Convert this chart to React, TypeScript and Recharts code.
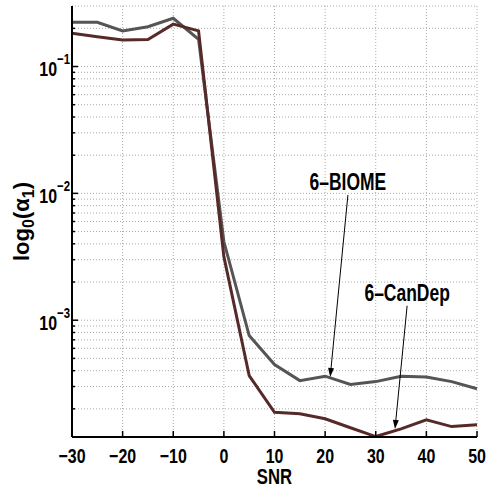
import React from 'react';
import { LineChart, Line, XAxis, YAxis, CartesianGrid, ReferenceLine } from 'recharts';

const snr = [-30, -25, -20, -15, -10, -5, 0, 5, 10, 15, 20, 25, 30, 35, 40, 45, 50];
const biome = [0.223, 0.223, 0.191, 0.206, 0.24, 0.164, 4.17e-3, 7.57e-4, 4.47e-4, 3.34e-4, 3.62e-4, 3.11e-4, 3.28e-4, 3.62e-4, 3.56e-4, 3.28e-4, 2.88e-4];
const canDep = [0.183, 0.172, 0.162, 0.163, 0.216, 0.191, 3.17e-3, 3.66e-4, 1.88e-4, 1.83e-4, 1.67e-4, 1.42e-4, 1.21e-4, 1.39e-4, 1.64e-4, 1.45e-4, 1.5e-4];

const xTicks = [-30, -20, -10, 0, 10, 20, 30, 40, 50];
const yTicks = [
  2e-4, 3e-4, 4e-4, 5e-4, 6e-4, 7e-4, 8e-4, 9e-4,
  1e-3, 2e-3, 3e-3, 4e-3, 5e-3, 6e-3, 7e-3, 8e-3, 9e-3,
  1e-2, 2e-2, 3e-2, 4e-2, 5e-2, 6e-2, 7e-2, 8e-2, 9e-2,
  1e-1, 2e-1,
];
const decadeLabels: Record<string, string> = { '0.001': '−3', '0.01': '−2', '0.1': '−1' };
const yDomain = [1.2e-4, 0.3];

const biomeNote = { text: '6–BIOME', from: { x: 24.5, y: 9.7e-3 }, to: { x: 21, y: 3.57e-4 } };
const canDepNote = { text: '6–CanDep', from: { x: 36.2, y: 1.3e-3 }, to: { x: 33.8, y: 1.39e-4 } };

const data = snr.map((s, i) => ({ snr: s, biome: biome[i], canDep: canDep[i] }));

const FONT = "'Liberation Sans', Arial, Helvetica, sans-serif";
const SQ = 0.76;

const isDecade = (v: number) => decadeLabels[String(v)] !== undefined;

const XTickBottom = (props: any) => {
  const { x, y, payload } = props;
  const v = payload.value as number;
  const label = v < 0 ? `−${Math.abs(v)}` : String(v);
  return (
    <g>
      <line x1={x} y1={y} x2={x} y2={y - 6} stroke="#000" strokeWidth={1.5} />
      <g transform={`translate(${x},${y + 26}) scale(${SQ},1)`}>
        <text x={0} y={0} textAnchor="middle" fontFamily={FONT} fontWeight="bold" fontSize={21} fill="#000">
          {label}
        </text>
      </g>
    </g>
  );
};

const XTickTop = (props: any) => {
  const { x, y } = props;
  return <line x1={x} y1={y} x2={x} y2={y + 6} stroke="#000" strokeWidth={1} />;
};

const YTickLeft = (props: any) => {
  const { x, y, payload } = props;
  const v = payload.value as number;
  const major = isDecade(v);
  return (
    <g>
      <line x1={x} y1={y} x2={x + (major ? 6 : 3)} y2={y} stroke="#000" strokeWidth={1.5} />
      {major && (
        <g transform={`translate(${x - 2},${y + 9.5}) scale(${SQ},1)`}>
          <text x={0} y={0} textAnchor="end" fontFamily={FONT} fontWeight="bold" fill="#000">
            <tspan fontSize={21}>10</tspan>
            <tspan fontSize={15} dy={-12}>{decadeLabels[String(v)]}</tspan>
          </text>
        </g>
      )}
    </g>
  );
};

const YTickRight = (props: any) => {
  const { x, y, payload } = props;
  const major = isDecade(payload.value as number);
  return <line x1={x} y1={y} x2={x - (major ? 6 : 3)} y2={y} stroke="#000" strokeWidth={1.5} />;
};

const makeArrow = (text: string) => (p: any) => {
  const { x1, y1, x2, y2 } = p;
  const dx = x2 - x1;
  const dy = y2 - y1;
  const len = Math.sqrt(dx * dx + dy * dy) || 1;
  const ux = dx / len;
  const uy = dy / len;
  const hl = 9;
  const hw = 3;
  const bx = x2 - ux * hl;
  const by = y2 - uy * hl;
  const pts = `${x2},${y2} ${bx - uy * hw},${by + ux * hw} ${bx + uy * hw},${by - ux * hw}`;
  return (
    <g>
      <line x1={x1} y1={y1} x2={bx} y2={by} stroke="#000" strokeWidth={1} />
      <polygon points={pts} fill="#000" />
      <g transform={`translate(${x1},${y1 - 5}) scale(${SQ},1)`}>
        <text x={0} y={0} textAnchor="middle" fontFamily={FONT} fontWeight="bold" fontSize={23} fill="#000">
          {text}
        </text>
      </g>
    </g>
  );
};

const YLabel = (props: any) => {
  const vb = props.viewBox;
  const cx = vb.x + 17;
  const cy = vb.y + vb.height / 2;
  return (
    <g transform={`translate(${cx},${cy}) rotate(-90)`}>
      <text x={0} y={0} textAnchor="middle" fontFamily={FONT} fontWeight="bold" fontSize={22} fill="#000">
        <tspan>log</tspan>
        <tspan fontSize={16} dy={5}>0</tspan>
        <tspan dy={-5}>(α</tspan>
        <tspan fontSize={16} dy={5}>1</tspan>
        <tspan dy={-5}>)</tspan>
      </text>
    </g>
  );
};

const XLabel = (props: any) => {
  const vb = props.viewBox;
  return (
    <g transform={`translate(${vb.x + vb.width / 2},${vb.y + 47}) scale(${SQ},1)`}>
      <text x={0} y={0} textAnchor="middle" fontFamily={FONT} fontWeight="bold" fontSize={22} fill="#000">
        SNR
      </text>
    </g>
  );
};

export default function App() {
  return (
    <div style={{ position: 'absolute', left: 0, top: 0, width: 488, height: 488, background: '#fff' }}>
      <LineChart width={488} height={488} data={data} margin={{ top: 6, right: 11, bottom: 21, left: 12 }}>
        <CartesianGrid stroke="#aaa" strokeDasharray="1 2" />
        <XAxis
          dataKey="snr"
          type="number"
          domain={[-30, 50]}
          ticks={xTicks}
          interval={0}
          tickLine={false}
          tickSize={0}
          tickMargin={0}
          tick={<XTickBottom />}
          axisLine={{ stroke: '#000', strokeWidth: 2 }}
          height={30}
          label={<XLabel />}
        />
        <XAxis
          xAxisId="top"
          orientation="top"
          dataKey="snr"
          type="number"
          domain={[-30, 50]}
          ticks={xTicks}
          interval={0}
          tickLine={false}
          tickSize={0}
          tickMargin={0}
          tick={<XTickTop />}
          axisLine={{ stroke: '#000', strokeWidth: 1.5 }}
          height={0}
        />
        <YAxis
          scale="log"
          type="number"
          domain={yDomain}
          allowDataOverflow
          ticks={yTicks}
          interval={0}
          tickLine={false}
          tickSize={0}
          tickMargin={0}
          tick={<YTickLeft />}
          axisLine={{ stroke: '#000', strokeWidth: 2 }}
          width={60}
          label={<YLabel />}
        />
        <YAxis
          yAxisId="right"
          orientation="right"
          scale="log"
          type="number"
          domain={yDomain}
          allowDataOverflow
          ticks={yTicks}
          interval={0}
          tickLine={false}
          tickSize={0}
          tickMargin={0}
          tick={<YTickRight />}
          axisLine={{ stroke: '#000', strokeWidth: 1.5 }}
          width={0}
        />
        <Line type="linear" dataKey="biome" stroke="#555555" strokeWidth={3} dot={false} isAnimationActive={false} />
        <Line type="linear" dataKey="canDep" stroke="#572a2a" strokeWidth={3} dot={false} isAnimationActive={false} />
        <ReferenceLine
          segment={[biomeNote.from, biomeNote.to]}
          ifOverflow="visible"
          shape={makeArrow(biomeNote.text)}
        />
        <ReferenceLine
          segment={[canDepNote.from, canDepNote.to]}
          ifOverflow="visible"
          shape={makeArrow(canDepNote.text)}
        />
      </LineChart>
    </div>
  );
}
